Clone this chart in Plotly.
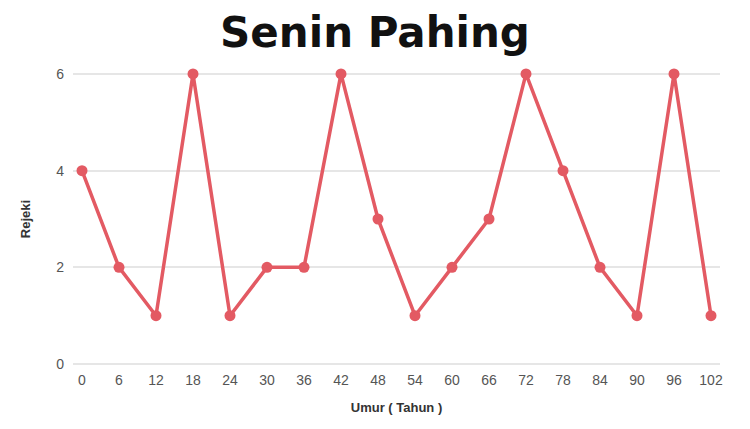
import plotly.graph_objects as go

umur = [0, 6, 12, 18, 24, 30, 36, 42, 48, 54, 60, 66, 72, 78, 84, 90, 96, 102]
rejeki = [4, 2, 1, 6, 1, 2, 2, 6, 3, 1, 2, 3, 6, 4, 2, 1, 6, 1]
y_ticks = [0, 2, 4, 6]

fig = go.Figure()
fig.add_trace(go.Scatter(
    x=umur, y=rejeki, mode="lines+markers",
    line=dict(color="#e35a63", width=3.5),
    marker=dict(color="#e35a63", size=11),
    cliponaxis=False,
))

fig.update_layout(
    width=734, height=413,
    margin=dict(l=65, r=22, t=63, b=54),
    paper_bgcolor="white", plot_bgcolor="white",
    showlegend=False,
    title=dict(text="<b>Senin Pahing</b>", x=0.5, xanchor="center", y=0.94, yanchor="middle",
               font=dict(family="DejaVu Sans", size=42, color="#111111")),
    font=dict(family="Liberation Sans, Arial", color="#555555"),
)
fig.update_xaxes(
    range=[-1.46, 103.46], tickvals=umur, ticktext=[str(v) for v in umur],
    showgrid=False, zeroline=False, showline=False, automargin=False,
    tickfont=dict(size=14, color="#555555"), ticks="", ticklen=0, ticklabelstandoff=3,
    title=dict(text="<b>Umur ( Tahun )</b>", font=dict(size=13, color="#333333"), standoff=15),
)
fig.update_yaxes(
    range=[-0.06, 6.06], tickvals=y_ticks, automargin=False,
    showgrid=True, gridcolor="#e6e6e6", gridwidth=1.5, zeroline=False, showline=False,
    tickfont=dict(size=14, color="#555555"), ticks="", ticklen=0, ticklabelstandoff=8,
    title=dict(text="<b>Rejeki</b>", font=dict(size=13, color="#333333"), standoff=22),
)
fig.write_html("out.html")
